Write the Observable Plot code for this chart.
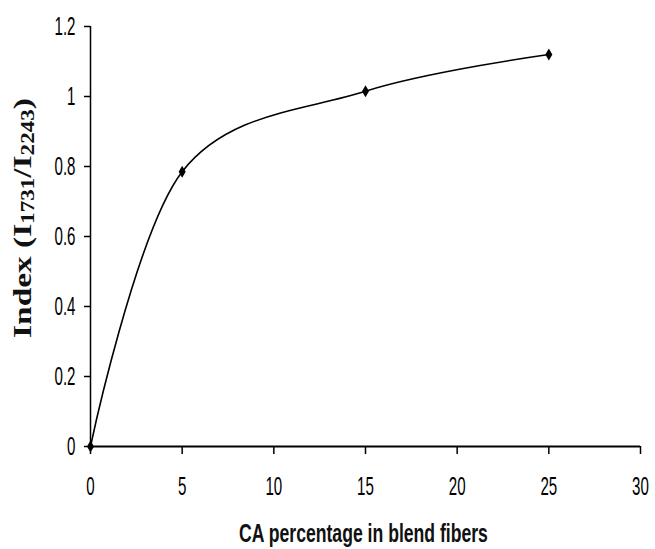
<!DOCTYPE html>
<html><head><meta charset="utf-8">
<script src="https://cdn.jsdelivr.net/npm/d3@7"></script>
<script src="https://cdn.jsdelivr.net/npm/@observablehq/plot@0.6"></script>
<style>body{margin:0;background:#fff} svg{display:block}</style>
</head><body><div id="chart"></div>
<script>
const caPercent = [0, 5, 15, 25];
const indexValue = [0, 0.785, 1.015, 1.12];
const xTicks = [0, 5, 10, 15, 20, 25, 30];
const yTicks = [0, 0.2, 0.4, 0.6, 0.8, 1, 1.2];
const xLabel = "CA percentage in blend fibers";
const yLabelMain = ["Index (I", "/I", ")"];
const yLabelSubs = ["1731", "2243"];

const data = caPercent.map((x, i) => ({x, y: indexValue[i]}));
const tickFont = "'Liberation Sans Narrow', 'Liberation Sans', Arial, sans-serif";

const chart = Plot.plot({
  width: 655, height: 549,
  marginLeft: 90, marginRight: 15, marginTop: 26, marginBottom: 103,
  style: {fontFamily: tickFont, fontSize: "26px", background: "#fff", color: "#000"},
  x: {domain: [0, 30], label: null},
  y: {domain: [0, 1.2], label: null},
  marks: [
    Plot.axisX({ticks: xTicks, tickSize: 8, tickPadding: 22, tickFormat: d => String(d), label: null, strokeWidth: 1.5, fontSize: 26, fontFamily: tickFont}),
    Plot.axisY({ticks: yTicks, tickSize: 6, tickPadding: 9, tickFormat: d => String(+d.toFixed(1)), label: null, strokeWidth: 1.5, fontSize: 26, fontFamily: tickFont}),
    Plot.ruleY([0], {strokeWidth: 2, stroke: "#000"}),
    Plot.ruleX([0], {strokeWidth: 1.5, stroke: "#000"}),
    Plot.line(data, {x: "x", y: "y", curve: "cardinal", strokeWidth: 1.6, stroke: "#000"}),
    Plot.dot(data, {x: "x", y: "y", symbol: "diamond", r: 3.7, fill: "#000", stroke: "none"})
  ]
});
document.getElementById("chart").append(chart);
const svg = d3.select(chart);

// condense tick labels horizontally (keeps Plot's own positioning)
svg.selectAll('g[aria-label="x-axis tick label"] text, g[aria-label="y-axis tick label"] text').each(function () {
  const t = d3.select(this);
  const tr = t.attr("transform") || "";
  t.attr("transform", `${tr} scale(0.58,1)`);
});

// x label
const xl = svg.append("text")
  .attr("font-family", tickFont)
  .attr("font-weight", "bold").attr("font-size", 25).attr("fill", "#111")
  .attr("text-anchor", "middle").text(xLabel);
const xlL = xl.node().getComputedTextLength();
xl.attr("transform", `translate(363.5,542) scale(${249 / xlL},1)`);

// y label
const yl = svg.append("text")
  .attr("font-family", "'Liberation Serif', 'DejaVu Serif', serif")
  .attr("font-weight", "bold").attr("font-size", 26).attr("fill", "#111")
  .attr("text-anchor", "middle");
yl.append("tspan").text(yLabelMain[0]);
yl.append("tspan").attr("font-size", 18).attr("dy", 3).text(yLabelSubs[0]);
yl.append("tspan").attr("dy", -3).text(yLabelMain[1]);
yl.append("tspan").attr("font-size", 18).attr("dy", 3).text(yLabelSubs[1]);
yl.append("tspan").attr("dy", -3).text(yLabelMain[2]);
const ylL = yl.node().getComputedTextLength();
yl.attr("transform", `translate(31,218) rotate(-90) scale(${240 / ylL},1)`);
</script>
</body></html>
